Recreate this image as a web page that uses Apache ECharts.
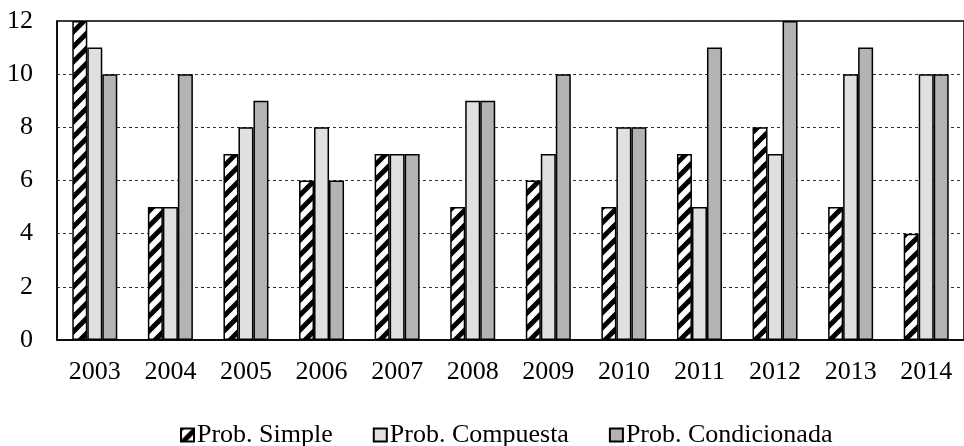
<!DOCTYPE html>
<html>
<head>
<meta charset="utf-8">
<script src="https://cdn.jsdelivr.net/npm/echarts@6/dist/echarts.min.js"></script>
<style>
  html, body { margin: 0; padding: 0; background: #fff; }
  #chart { width: 964px; height: 446px; }
</style>
</head>
<body>
<div id="chart"></div>
<script>
// datos
const years = ['2003', '2004', '2005', '2006', '2007', '2008', '2009', '2010', '2011', '2012', '2013', '2014'];
const probSimple = [12, 5, 7, 6, 7, 5, 6, 5, 7, 8, 5, 4];
const probCompuesta = [11, 5, 8, 8, 7, 9, 7, 8, 5, 7, 10, 10];
const probCondicionada = [10, 10, 9, 6, 7, 9, 10, 8, 11, 12, 11, 10];
const yTicks = [0, 2, 4, 6, 8, 10, 12];

// trama diagonal para la primera serie
function hatch() {
  const c = document.createElement('canvas');
  const t = 15;
  c.width = t; c.height = t;
  const ctx = c.getContext('2d');
  ctx.fillStyle = '#fff';
  ctx.fillRect(0, 0, t, t);
  ctx.strokeStyle = '#000';
  ctx.lineWidth = 5;
  for (let k = -1; k <= 1; k++) {
    ctx.beginPath();
    ctx.moveTo(k * t - 2, t + 2);
    ctx.lineTo(k * t + t + 2, -2);
    ctx.stroke();
  }
  return c;
}

const font = '"Liberation Serif", "Times New Roman", serif';
const chart = echarts.init(document.getElementById('chart'));

const barStyle = (color) => ({ color: color, borderColor: '#000', borderWidth: 1.5 });

chart.setOption({
  animation: false,
  textStyle: { fontFamily: font },
  grid: {
    left: 57, top: 21, width: 917, height: 319,
    show: true, borderColor: '#000', borderWidth: 1.5, backgroundColor: 'transparent'
  },
  legend: {
    top: 417,
    left: 175,
    itemWidth: 13,
    itemHeight: 13,
    itemGap: 40,
    icon: 'rect',
    textStyle: { fontFamily: font, fontSize: 26, color: '#000', padding: [0, 0, 0, -2] },
    data: ['Prob. Simple', 'Prob. Compuesta', 'Prob. Condicionada']
  },
  xAxis: {
    type: 'category',
    data: years,
    axisLine: { lineStyle: { color: '#000', width: 1.5 } },
    axisTick: { show: false },
    axisLabel: { color: '#000', fontSize: 26, fontFamily: font, margin: 19 }
  },
  yAxis: {
    type: 'value',
    min: yTicks[0],
    max: yTicks[yTicks.length - 1],
    interval: 2,
    axisLine: { show: true, lineStyle: { color: '#000', width: 1.5 } },
    axisTick: { show: false },
    axisLabel: { color: '#000', fontSize: 26, fontFamily: font, margin: 24 },
    splitLine: { lineStyle: { color: '#333', type: [3, 3], width: 1 } }
  },
  series: [
    { name: 'Prob. Simple', type: 'bar', data: probSimple, barWidth: 15, barGap: '0%',
      itemStyle: barStyle({ image: hatch(), repeat: 'repeat' }) },
    { name: 'Prob. Compuesta', type: 'bar', data: probCompuesta, barWidth: 15, barGap: '0%',
      itemStyle: barStyle('#e0e0e0') },
    { name: 'Prob. Condicionada', type: 'bar', data: probCondicionada, barWidth: 15, barGap: '0%',
      itemStyle: barStyle('#b3b3b3') }
  ]
});
</script>
</body>
</html>
